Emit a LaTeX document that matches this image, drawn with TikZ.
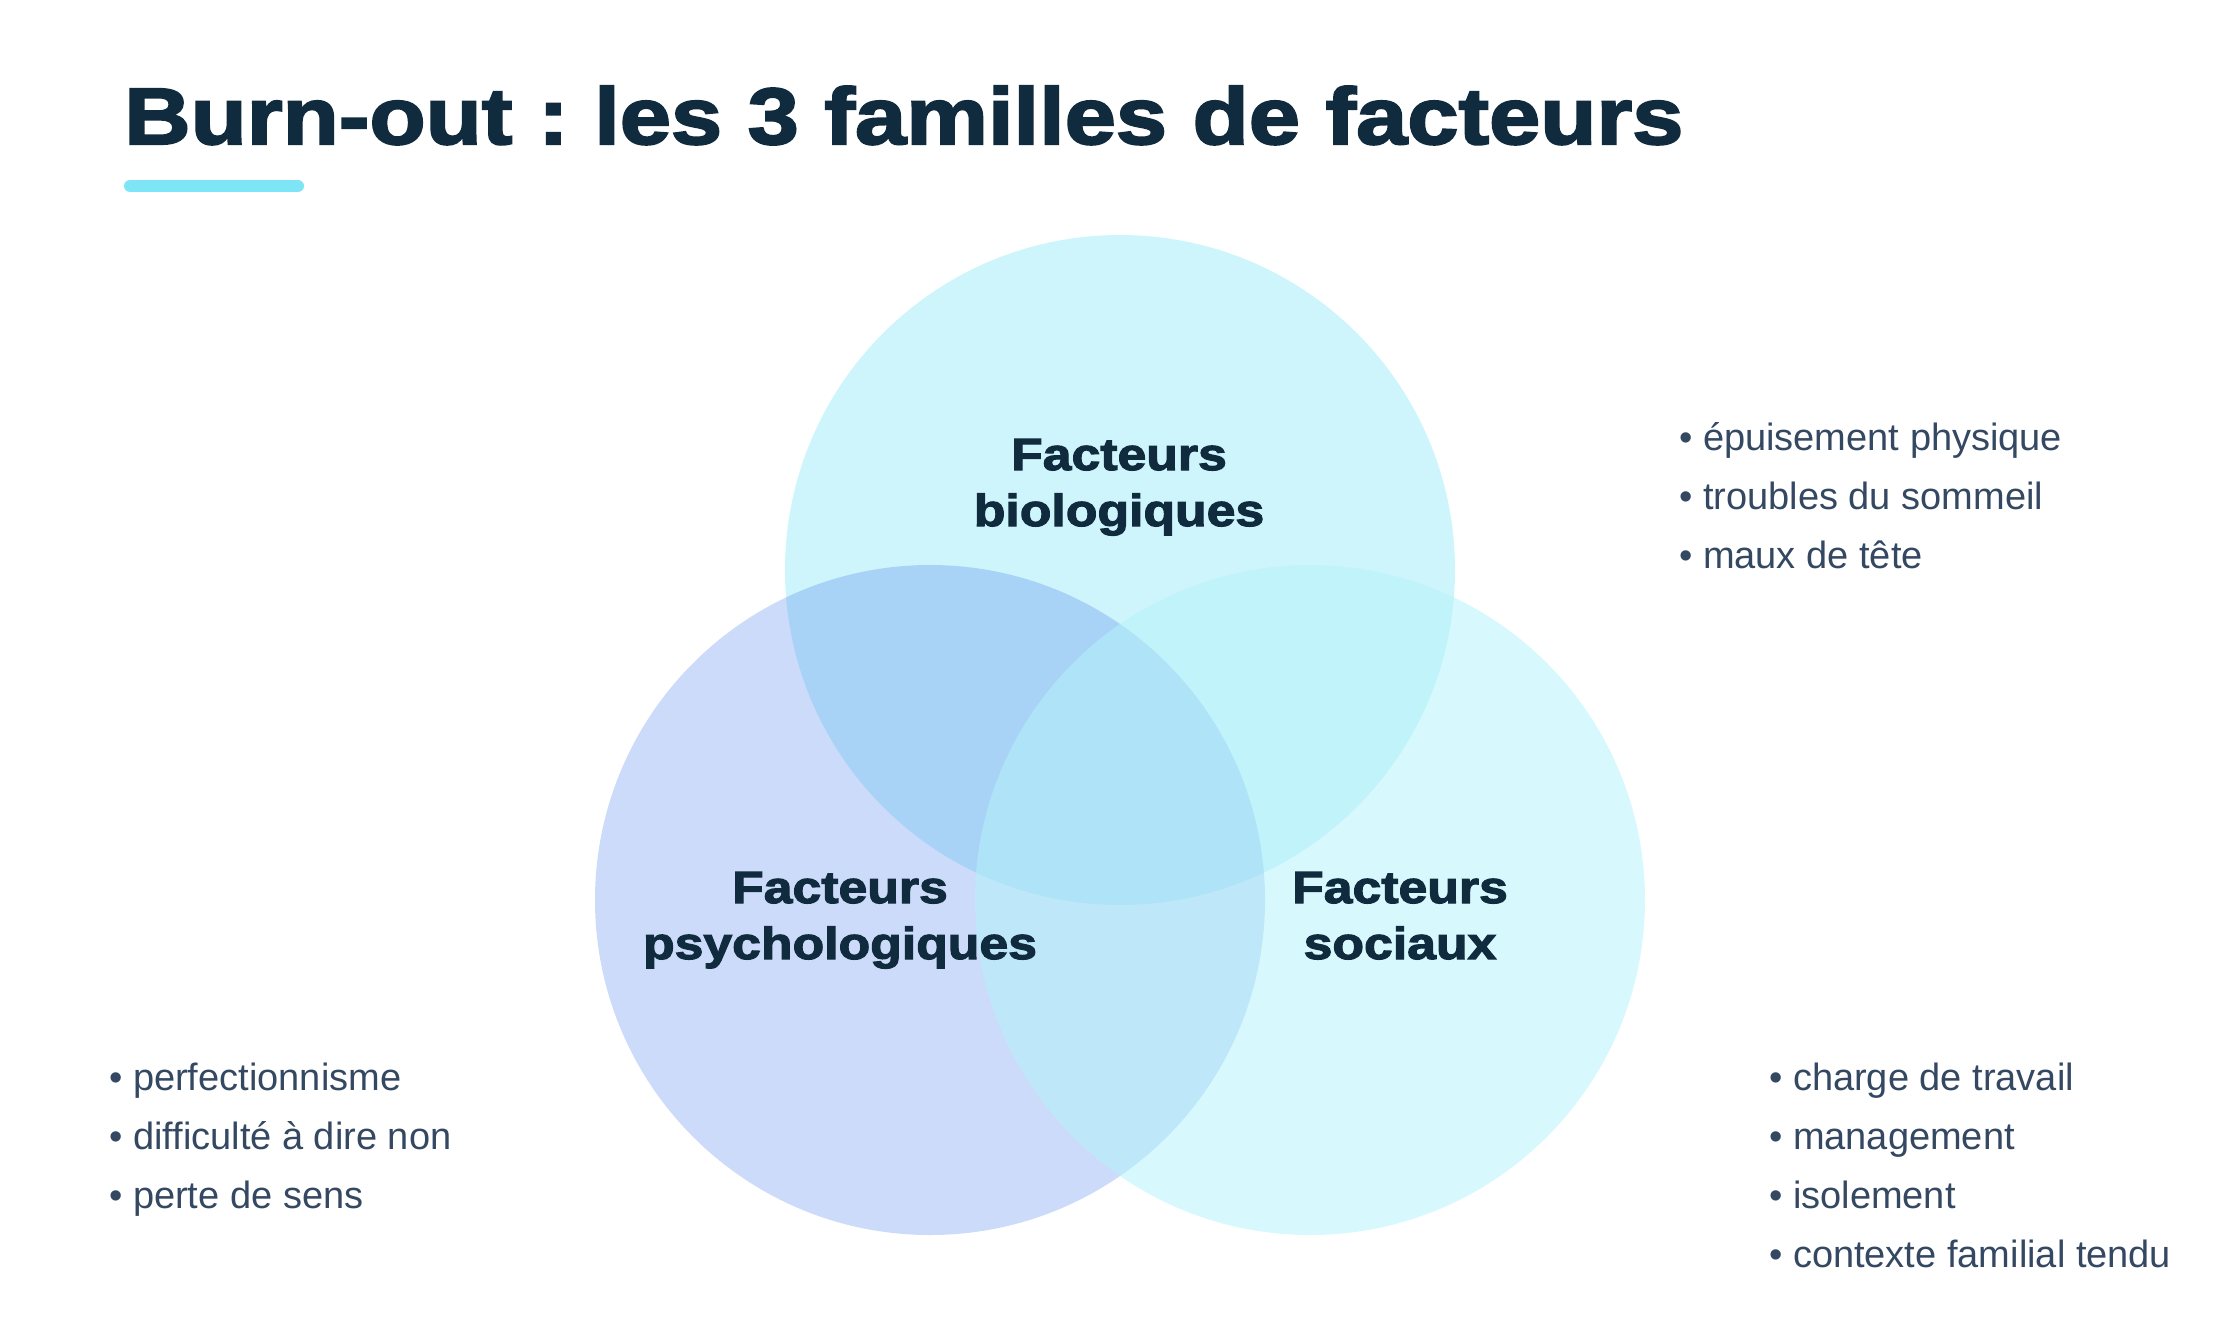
\documentclass[tikz,border=0pt]{standalone}
\usepackage{fontspec}
\setmainfont{Liberation Sans}
\newfontfamily\heavyfont[FakeStretch=1.15,FakeBold=2.6]{Liberation Sans Bold}
\frenchspacing

\definecolor{inkdark}{HTML}{112B3E}
\definecolor{inktext}{HTML}{344862}
\definecolor{accent}{HTML}{7DE5F6}
\definecolor{biocol}{HTML}{22D3EE}
\definecolor{psycol}{HTML}{4279E9}
\definecolor{soccol}{HTML}{B5F2FB}

\begin{document}
\begin{tikzpicture}[x=1pt,y=-1pt,
        set/.style={circle, inner sep=0pt, minimum size=670pt},
        setlabel/.style={anchor=base, inner sep=0pt, align=center, text=inkdark,
                        font=\heavyfont\fontsize{45}{56}\selectfont},
        item/.style={anchor=base west, inner sep=0pt, text=inktext,
                        font=\fontsize{38}{46}\selectfont}]
    \useasboundingbox (0,0) rectangle (2240,1320);

    % title and accent bar
    \node[anchor=base west, inner sep=0pt, text=inkdark,
          font=\heavyfont\fontsize{80}{96}\selectfont]
        (title) at (124,144) {Burn-out : les 3 familles de facteurs};
    \coordinate (barL) at (130,186);
    \coordinate (barR) at (298,186);
    \draw[accent, line width=12pt, line cap=round] (barL) -- (barR);

    % the three sets
    \node[set, fill=biocol, fill opacity=0.22] (bio) at (1120,570) {};
    \node[set, fill=psycol, fill opacity=0.27] (psy) at (930,900) {};
    \node[set, fill=soccol, fill opacity=0.54] (soc) at (1310,900) {};

    \node[setlabel] (biolabel) at (1119,526) {Facteurs\\biologiques};
    \node[setlabel] (psylabel) at (840,959) {Facteurs\\psychologiques};
    \node[setlabel] (soclabel) at (1400,959) {Facteurs\\sociaux};

    % factor lists
    \foreach \t [count=\i from 0] in {épuisement physique, troubles du sommeil, maux de tête}
        \node[item] (bioitem\i) at (1679,450+59*\i) {• \t};
    \foreach \t [count=\i from 0] in {perfectionnisme, difficulté à dire non, perte de sens}
        \node[item] (psyitem\i) at (109,1090+59*\i) {• \t};
    \foreach \t [count=\i from 0] in {charge de travail, management, isolement, contexte familial tendu}
        \node[item] (socitem\i) at (1769,1090+59.3*\i) {• \t};
\end{tikzpicture}
\end{document}
